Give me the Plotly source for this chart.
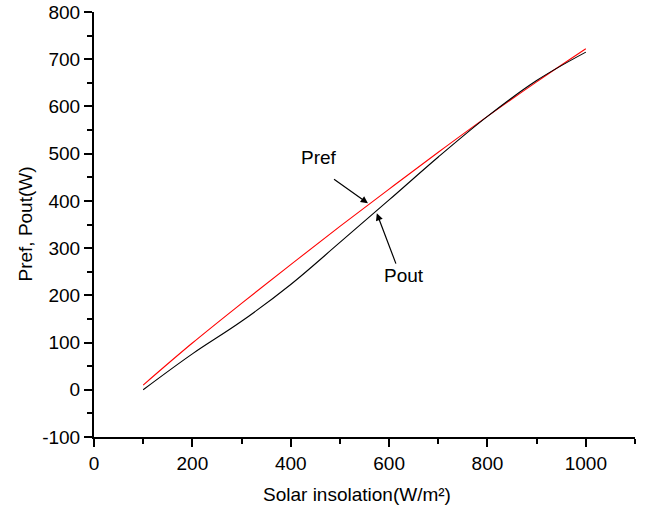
import plotly.graph_objects as go

insolation = [100, 200, 300, 400, 500, 600, 700, 800, 900, 1000]
pref = [10, 99, 183, 265, 346, 425, 503, 579, 652, 722]
pout = [0, 76, 145, 223, 312, 402, 493, 579, 655, 715]

x_ticks = [0, 200, 400, 600, 800, 1000]
y_ticks = [-100, 0, 100, 200, 300, 400, 500, 600, 700, 800]

FONT = "Liberation Sans, Arial, sans-serif"
FS = 19

fig = go.Figure()
fig.add_trace(go.Scatter(x=insolation, y=pref, mode="lines", line=dict(color="#ff0000", width=1.1),
                         line_shape="spline", name="Pref"))
fig.add_trace(go.Scatter(x=insolation, y=pout, mode="lines", line=dict(color="#000000", width=1.1),
                         line_shape="spline", name="Pout"))

axis_common = dict(showgrid=False, zeroline=False, showline=True, linecolor="black", linewidth=2,
                   ticks="outside", ticklen=8, tickwidth=1.5, tickcolor="black",
                   tickfont=dict(family=FONT, size=FS, color="black"))

fig.update_xaxes(range=[0, 1100], tickvals=x_ticks, ticktext=[str(v) for v in x_ticks],
                 minor=dict(ticks="outside", dtick=100, tick0=0, ticklen=5, tickwidth=1.5, tickcolor="black"),
                 **axis_common)
fig.update_yaxes(range=[-100, 800], tickvals=y_ticks, ticktext=[str(v) for v in y_ticks],
                 minor=dict(ticks="outside", dtick=50, tick0=0, ticklen=5, tickwidth=1.5, tickcolor="black"),
                 **axis_common)

# arrows
fig.add_annotation(x=557, y=395, ax=485, ay=448, axref="x", ayref="y", xref="x", yref="y",
                   text="", showarrow=True, arrowhead=2, arrowsize=1.2, arrowwidth=1.2, arrowcolor="black")
fig.add_annotation(x=575, y=374, ax=615, ay=264, axref="x", ayref="y", xref="x", yref="y",
                   text="", showarrow=True, arrowhead=2, arrowsize=1.2, arrowwidth=1.2, arrowcolor="black")
fig.add_annotation(x=457, y=491, xref="x", yref="y", text="Pref", showarrow=False,
                   font=dict(family=FONT, size=FS, color="black"))
fig.add_annotation(x=630, y=243, xref="x", yref="y", text="Pout", showarrow=False,
                   font=dict(family=FONT, size=FS, color="black"))

# axis titles
fig.add_annotation(x=0.486, y=-0.136, xref="paper", yref="paper", text="Solar insolation(W/m²)",
                   showarrow=False, xanchor="center", yanchor="middle",
                   font=dict(family=FONT, size=FS, color="black"))
fig.add_annotation(x=-0.1275, y=0.5, xref="paper", yref="paper", text="Pref, Pout(W)",
                   showarrow=False, xanchor="center", yanchor="middle", textangle=-90,
                   font=dict(family=FONT, size=FS, color="black"))

fig.update_layout(width=645, height=512, margin=dict(l=94, r=10, t=12, b=75, autoexpand=False),
                  plot_bgcolor="white", paper_bgcolor="white", showlegend=False)

fig.write_html("out.html", config={"displayModeBar": False},
               post_script="document.body.style.margin='0';document.body.style.overflow='hidden';")
